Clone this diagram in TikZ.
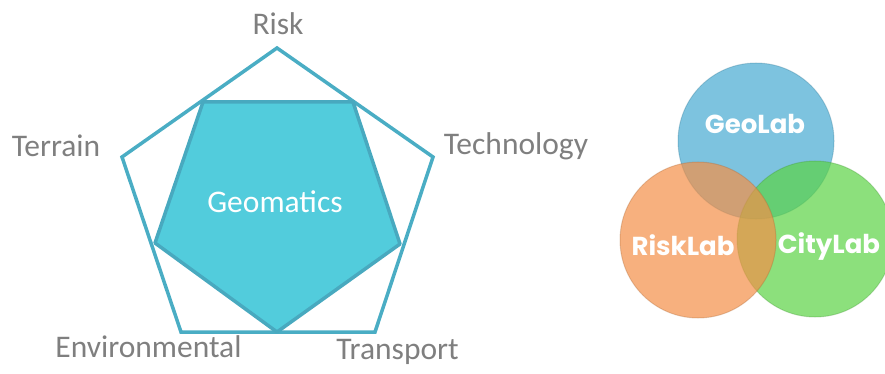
\documentclass[tikz,border=0pt]{standalone}
\usepackage{fontspec}
\setmainfont{Carlito}
\newfontfamily\labfont{Poppins}
\usepackage{tikz}
\usetikzlibrary{positioning, calc}
\usepackage{xcolor}
\definecolor{PentEdge}{RGB}{74, 173, 196}
\definecolor{PentFill}{RGB}{82, 204, 220}
\definecolor{PentInner}{RGB}{72, 169, 191}
\definecolor{AxisGray}{RGB}{127, 127, 127}
\definecolor{GeoBlue}{RGB}{70, 170, 210}
\definecolor{RiskOrange}{RGB}{243, 143, 71}
\definecolor{CityGreen}{RGB}{91, 211, 69}

\begin{document}
\begin{tikzpicture}[x=1pt, y=-1pt,
    axislabel/.style={anchor=base, inner sep=0pt, text=AxisGray, font=\fontsize{31.5}{31.5}\selectfont},
    labcircle/.style={circle, minimum size=156pt, inner sep=0pt, fill opacity=0.7, draw opacity=0.3, line width=1pt},
    labname/.style={text=white, font=\labfont\bfseries\fontsize{26}{26}\selectfont}]

\useasboundingbox (0,0) rectangle (885,374);

% outer pentagon
\coordinate (o1) at (277,48);
\coordinate (o2) at (433,157);
\coordinate (o3) at (375,332);
\coordinate (o4) at (181,332);
\coordinate (o5) at (122,157);
\draw[PentEdge, line width=3.5pt] (o1) -- (o2) -- (o3) -- (o4) -- (o5) -- cycle;

% inner pentagon
\coordinate (i1) at (203,102);
\coordinate (i2) at (353,102);
\coordinate (i3) at (400,244);
\coordinate (i4) at (277,332);
\coordinate (i5) at (155,243);
\draw[PentInner, fill=PentFill, line width=3.5pt, line join=round] (i1) -- (i2) -- (i3) -- (i4) -- (i5) -- cycle;

\node[axislabel, text=white] (geomatics) at (275,212) {Geomatics};

% the five axes
\foreach \n/\x/\y/\t in {risk/278/35/Risk, terrain/56/157/Terrain, technology/516/155/Technology, environmental/148.5/357/Environmental, transport/397.5/359/Transport}
  \node[axislabel] (\n) at (\x,\y) {\t};

% the three labs
\node[labcircle, fill=GeoBlue, draw=GeoBlue!70!black] (geolab) at (756,141) {};
\node[labcircle, fill=CityGreen, draw=CityGreen!70!black] (citylab) at (815,239) {};
\node[labcircle, fill=RiskOrange, draw=RiskOrange!70!black] (risklab) at (698,240) {};

\node[labname] at (755,124) {GeoLab};
\node[labname] at (683,245) {RiskLab};
\node[labname] at (829,247) {CityLab};

\end{tikzpicture}
\end{document}
